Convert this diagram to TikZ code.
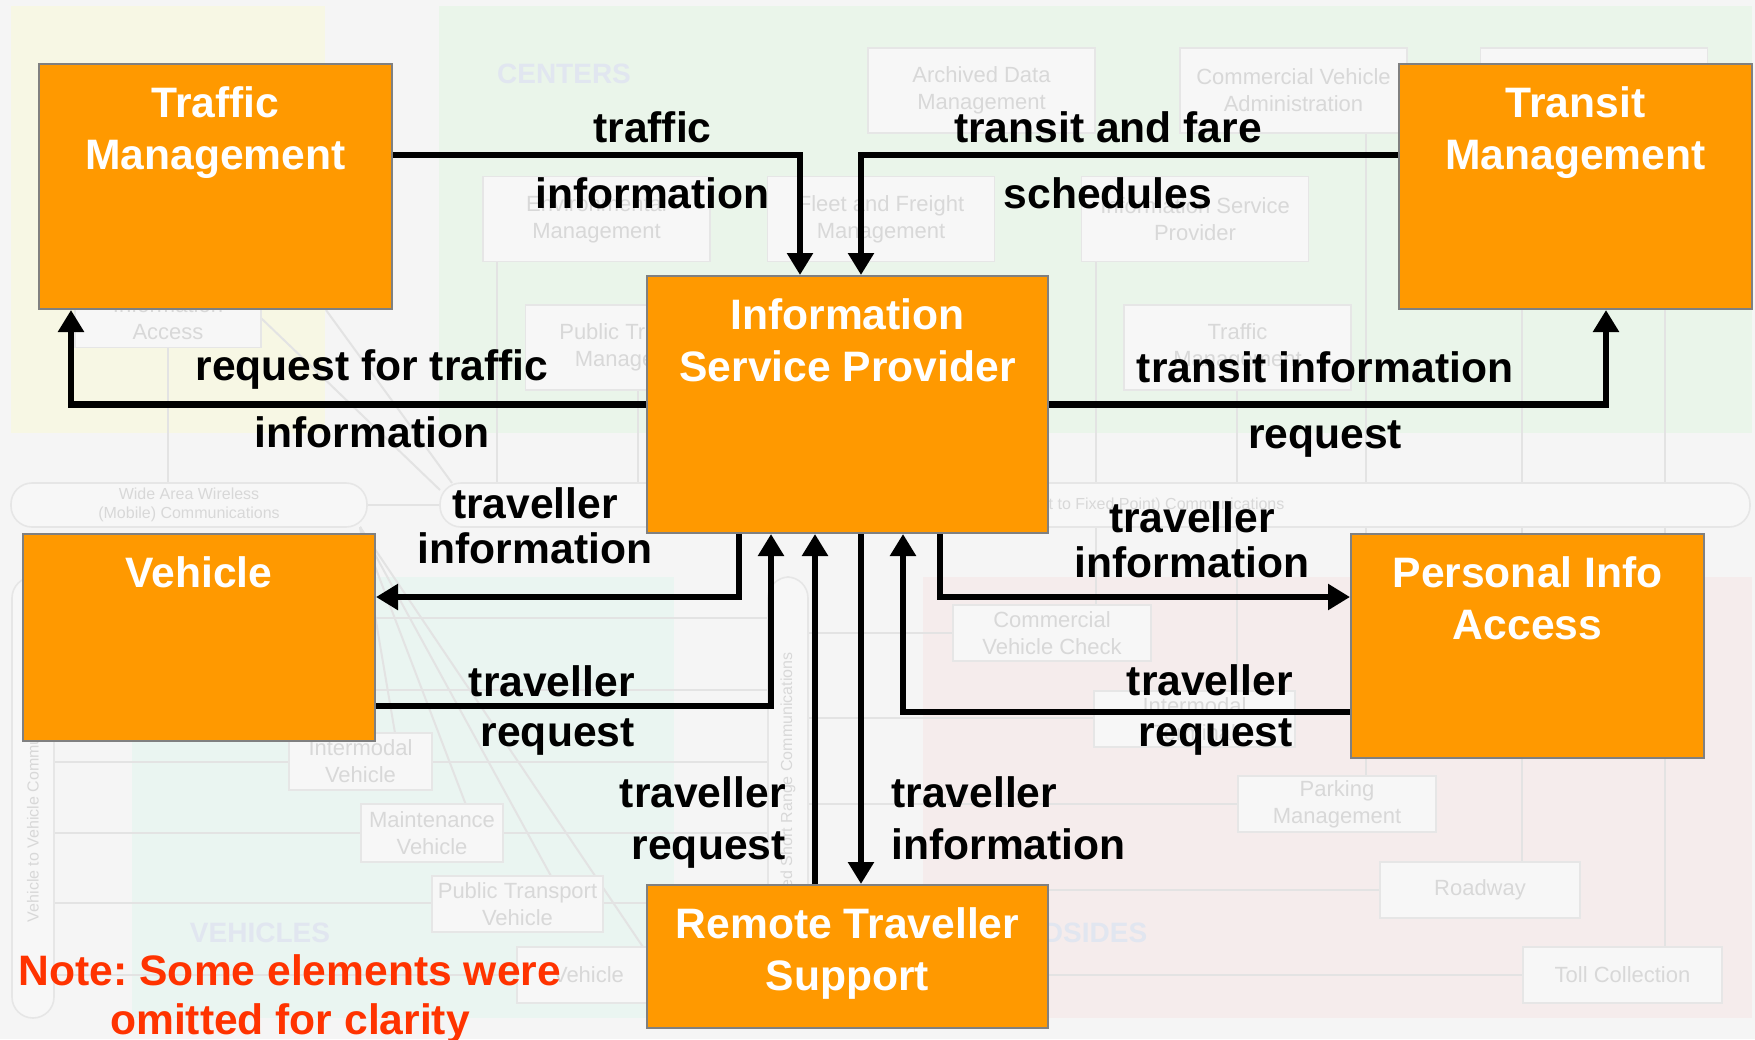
\documentclass[tikz,border=0pt]{standalone}
\usepackage{fontspec}
\setmainfont{Liberation Sans}
\usetikzlibrary{arrows.meta}
\frenchspacing

\definecolor{pagebg}{HTML}{F5F5F5}
\definecolor{zonetrav}{HTML}{F7F7E4}
\definecolor{zonecent}{HTML}{EAF5EA}
\definecolor{zoneveh}{HTML}{EAF5F1}
\definecolor{zoneroad}{HTML}{F5ECEC}
\definecolor{zonetext}{HTML}{E1E6F0}
\definecolor{ghostfill}{HTML}{F7F7F7}
\definecolor{ghostedge}{HTML}{E6E6E6}
\definecolor{ghosttext}{HTML}{D8D8D8}
\definecolor{ghostline}{HTML}{E3E3E3}
\definecolor{isorange}{HTML}{FF9900}
\definecolor{boxedge}{HTML}{808080}
\definecolor{notered}{HTML}{FF3300}

\newcommand{\sysfont}{\bfseries\fontsize{21.3}{26}\selectfont}
\newcommand{\flowfont}{\bfseries\fontsize{21.3}{24}\selectfont}
\newcommand{\ghostfont}{\fontsize{11}{13.5}\selectfont}
\newcommand{\busfont}{\fontsize{8}{9.5}\selectfont}
\newcommand{\zonefont}{\bfseries\fontsize{14}{16}\selectfont}

\begin{document}
\begin{tikzpicture}[x=0.5pt,y=-0.5pt]
\tikzstyle{sysbox}=[draw=boxedge, line width=1pt, fill=isorange, inner sep=0pt]
\tikzstyle{boxtitle}=[text=white, font=\sysfont, align=center, inner sep=0pt, anchor=north]
\tikzstyle{flowlbl}=[font=\flowfont, inner sep=0pt, anchor=base]
\tikzstyle{flow}=[line width=3.25pt, -{Triangle[length=11pt,width=12.5pt]}]
\tikzstyle{ghost}=[draw=ghostedge, line width=0.8pt, fill=ghostfill, text=ghosttext, font=\ghostfont,
  align=center, inner sep=0pt, minimum width=113.5pt, minimum height=42.5pt]
\tikzstyle{bus}=[draw=ghostedge, line width=0.8pt, fill=ghostfill, rounded corners=10.5pt, text=ghosttext,
  font=\busfont, align=center, inner sep=0pt]
\tikzstyle{wire}=[draw=ghostline, line width=1pt]
\tikzstyle{zonelbl}=[text=zonetext, font=\zonefont, inner sep=0pt]

\useasboundingbox (0,0) rectangle (1755,1039);
\fill[pagebg] (0,0) rectangle (1755,1039);

% faded architecture in the back
\fill[zonetrav] (11,6) rectangle (325,433);
\fill[zonecent] (439,6) rectangle (1752,433);
\fill[zoneveh] (132,577) rectangle (674,1018);
\fill[zoneroad] (923,577) rectangle (1752,1018);

\foreach \x/\ya/\yb in {168/348/483, 497/262/483, 638/390/483, 1096/262/483, 1237/390/483,
    1366/133/483, 1522/133/483, 1665/133/483, 1096/527/605, 1237/527/691, 1366/527/776,
    1522/527/862, 1665/527/947}
  \draw[wire] (\x,\ya) -- (\x,\yb);
\foreach \y in {762,833,903,975}
  \draw[wire] (54,\y) -- (768,\y);
\foreach \y in {618,690}
  \draw[wire] (375,\y) -- (768,\y);
\foreach \y/\xb in {633/953, 718/1094, 804/1238, 890/1380, 975/1523}
  \draw[wire] (808,\y) -- (\xb,\y);
\foreach \x/\y in {395/733, 466/805, 551/876, 643/947}
  \draw[wire] (360,527) -- (\x,\y);
\draw[wire] (367,505) -- (440,505);
\draw[wire] (261,318) -- (440,490);
\draw[wire] (326,310) -- (452,483);

\node[zonelbl] (centers) at (564,74) {CENTERS};
\node[zonelbl] (vehicles) at (260,933) {VEHICLES};
\node[zonelbl] (roadsides) at (1064,933) {ROADSIDES};

\node[ghost] (adm) at (981.5,90.5) {Archived Data\\Management};
\node[ghost] (cva) at (1293.5,90.5) {Commercial Vehicle\\Administration};
\node[ghost] (emm) at (1594,90.5) {};
\node[ghost] (envm) at (596.5,219) {Environmental\\Management};
\node[ghost] (ffm) at (881,219) {Fleet and Freight\\Management};
\node[ghost] (gisp) at (1195,219) {Information Service\\Provider};
\node[ghost] (ptm) at (639,347.5) {Public Transport\\Management};
\node[ghost] (gtm) at (1237.5,347.5) {Traffic\\Management};
\node[ghost, minimum width=93pt] (gpia) at (168,305) {Personal\\Information\\Access};

\node[ghost, minimum width=71.5pt, minimum height=28.5pt] (imv) at (360.5,761.5) {Intermodal\\Vehicle};
\node[ghost, minimum width=71pt, minimum height=29pt] (mtv) at (432,833) {Maintenance\\Vehicle};
\node[ghost, minimum width=85.5pt, minimum height=28pt] (ptv) at (517.5,904) {Public Transport\\Vehicle};
\node[ghost, minimum width=71.5pt, minimum height=28pt] (emv) at (588.5,975) {Vehicle};

\node[ghost, minimum width=99pt, minimum height=28pt] (cvc) at (1052,633) {Commercial\\Vehicle Check};
\node[ghost, minimum width=100.5pt, minimum height=28pt] (imt) at (1194.5,719) {Intermodal\\Terminal};
\node[ghost, minimum width=99pt, minimum height=28pt] (pkm) at (1337,804) {Parking\\Management};
\node[ghost, minimum width=100pt, minimum height=28pt] (rdw) at (1480,890) {Roadway};
\node[ghost, minimum width=99.5pt, minimum height=28pt] (tol) at (1622.5,975) {Toll Collection};

\node[bus, minimum width=178pt, minimum height=22pt] (wide) at (189,505) {Wide Area Wireless\\(Mobile) Communications};
\node[bus, minimum width=655pt, minimum height=22pt] (fixed) at (1095,505) {Wireline (Fixed Point to Fixed Point) Communications};
\node[bus, rotate=90, minimum width=220.5pt, minimum height=21pt] (v2v) at (33,797.5) {Vehicle to Vehicle Communications};
\node[bus, rotate=90, minimum width=220.5pt, minimum height=20pt] (dsrc) at (788,797.5) {Dedicated Short Range Communications};

% the systems
\node[sysbox, minimum width=176.5pt, minimum height=122.5pt] (tm) at (215.5,186.5) {};
\node[sysbox, minimum width=176.5pt, minimum height=122.5pt] (trm) at (1575.5,186.5) {};
\node[sysbox, minimum width=200.5pt, minimum height=128.5pt] (isp) at (847.5,404.5) {};
\node[sysbox, minimum width=176pt, minimum height=103.5pt] (veh) at (199,637.5) {};
\node[sysbox, minimum width=176.5pt, minimum height=112pt] (pia) at (1527.5,646) {};
\node[sysbox, minimum width=200.5pt, minimum height=71.5pt] (rts) at (847.5,956.5) {};

\node[boxtitle] (tmt) at ([yshift=-11.5pt]tm.north) {Traffic\\Management};
\node[boxtitle] (trmt) at ([yshift=-11.5pt]trm.north) {Transit\\Management};
\node[boxtitle] (ispt) at ([yshift=-11.5pt]isp.north) {Information\\Service Provider};
\node[boxtitle] (veht) at ([yshift=-11.5pt]veh.north) {Vehicle};
\node[boxtitle] (piat) at ([yshift=-11.5pt]pia.north) {Personal Info\\Access};
\node[boxtitle] (rtst) at ([yshift=-11.5pt]rts.north) {Remote Traveller\\Support};

% flows
\draw[flow] (tm.east |- 0,155) -| (isp.north -| 800,0);
\draw[flow] (trm.west |- 0,155) -| (isp.north -| 861,0);
\draw[flow] (isp.west) -| (tm.south -| 71,0);
\draw[flow] (isp.east) -| (trm.south -| 1606,0);
\draw[flow] (isp.south -| 739,0) |- (veh.east |- 0,597);
\draw[flow] (veh.east |- 0,706) -| (isp.south -| 771,0);
\draw[flow] (rts.north -| 815,0) -- (isp.south -| 815,0);
\draw[flow] (isp.south -| 861,0) -- (rts.north -| 861,0);
\draw[flow] (isp.south -| 940,0) |- (pia.west |- 0,597);
\draw[flow] (pia.west |- 0,712) -| (isp.south -| 903,0);

\node[flowlbl] (ti1) at (652.5,142) {traffic};
\node[flowlbl] (ti2) at (652.5,208) {information};
\node[flowlbl] (tf1) at (1108,142) {transit and fare};
\node[flowlbl] (tf2) at (1108,208) {schedules};
\node[flowlbl] (rt1) at (372,380) {request for traffic};
\node[flowlbl] (rt2) at (372,447) {information};
\node[flowlbl] (tr1) at (1325,382) {transit information};
\node[flowlbl] (tr2) at (1325,448) {request};
\node[flowlbl] (vi1) at (535,518) {traveller};
\node[flowlbl] (vi2) at (535,563) {information};
\node[flowlbl, anchor=base east] (vr1) at (635,696) {traveller};
\node[flowlbl, anchor=base east] (vr2) at (635,746) {request};
\node[flowlbl, anchor=base east] (rr1) at (786,807) {traveller};
\node[flowlbl, anchor=base east] (rr2) at (786,859) {request};
\node[flowlbl, anchor=base west] (ri1) at (891,807) {traveller};
\node[flowlbl, anchor=base west] (ri2) at (891,859) {information};
\node[flowlbl] (pi1) at (1192,532) {traveller};
\node[flowlbl] (pi2) at (1192,577) {information};
\node[flowlbl, anchor=base east] (pr1) at (1293,695) {traveller};
\node[flowlbl, anchor=base east] (pr2) at (1293,746) {request};

\node[flowlbl, text=notered] (note1) at (290,985) {Note: Some elements were};
\node[flowlbl, text=notered] (note2) at (290,1034) {omitted for clarity};
\end{tikzpicture}
\end{document}
